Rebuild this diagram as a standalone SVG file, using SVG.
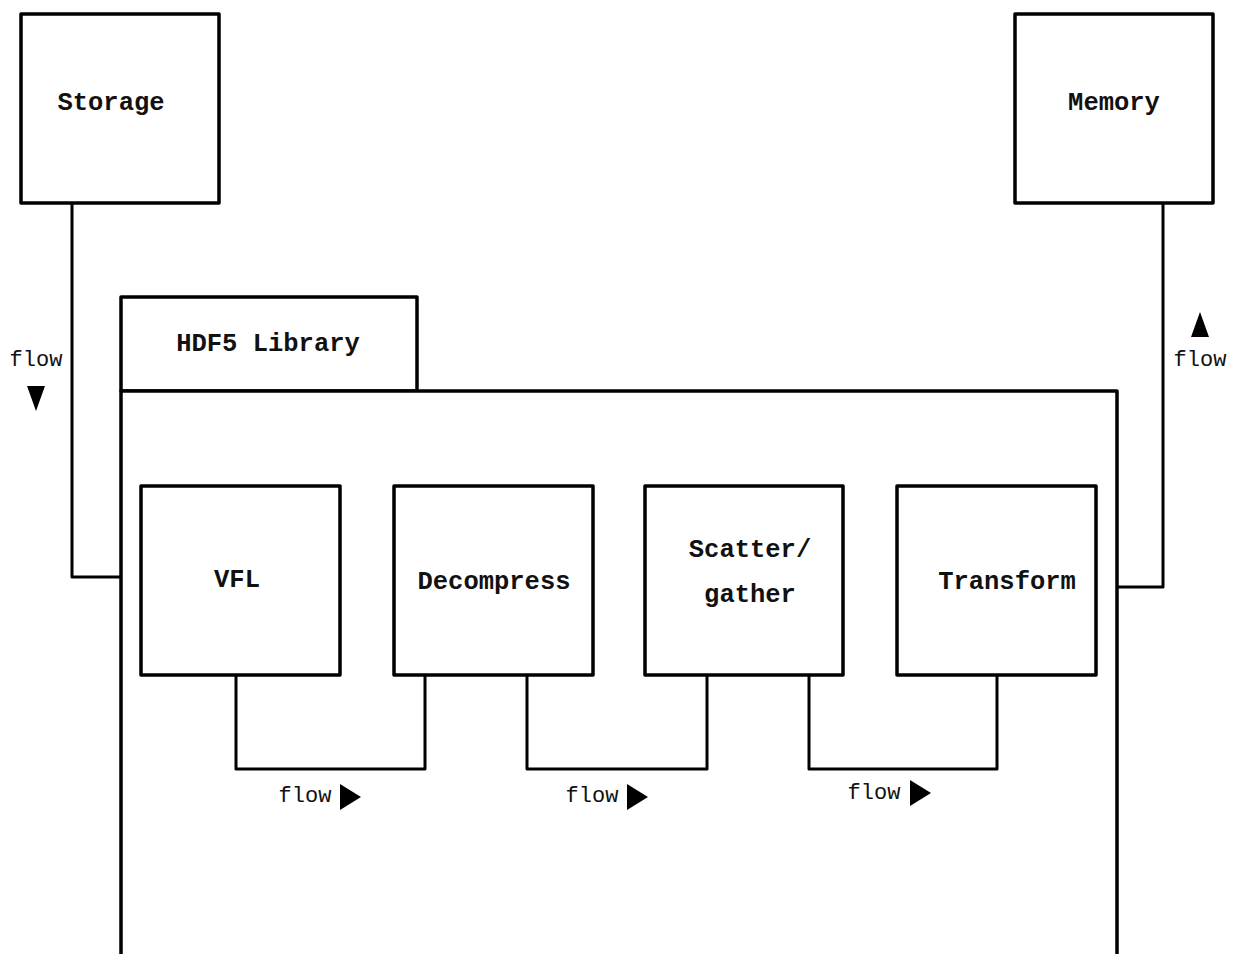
<svg xmlns="http://www.w3.org/2000/svg" width="1236" height="954" viewBox="0 0 1236 954">
<style>
.box{fill:#fff;stroke:#000;stroke-width:3.5;stroke-linejoin:round}
.ln{fill:none;stroke:#000;stroke-width:3;stroke-linejoin:round}
.lbl{font-family:"Liberation Mono","Courier New",monospace;font-weight:bold;font-size:25.5px;fill:#111;text-anchor:middle;dominant-baseline:central}
.fl{font-family:"Liberation Mono","Courier New",monospace;font-size:22px;fill:#111;text-anchor:middle;dominant-baseline:central}
.tri{fill:#000}
</style>
<rect width="1236" height="954" fill="#fff"/>
<g id="hdf5">
<rect class="box" x="121" y="297" width="296" height="94"/>
<path class="box" d="M121,960 V391 H1117 V960"/>
<text class="lbl" x="268" y="344">HDF5 Library</text>
</g>
<g id="connectors">
<polyline class="ln" points="72,203 72,577 121,577"/>
<polyline class="ln" points="1163,203 1163,587 1117,587"/>
<polyline class="ln" points="236,675 236,769 425,769 425,675"/>
<polyline class="ln" points="527,675 527,769 707,769 707,675"/>
<polyline class="ln" points="809,675 809,769 997,769 997,675"/>
<text class="fl" x="305" y="796">flow</text>
<polygon class="tri" points="340,784 340,810 361,797"/>
<text class="fl" x="592" y="796">flow</text>
<polygon class="tri" points="627,784 627,810 648,797"/>
<text class="fl" x="874" y="793">flow</text>
<polygon class="tri" points="910,780 910,806 931,793"/>
<text class="fl" x="36" y="360">flow</text>
<polygon class="tri" points="27,386 45,386 36,411"/>
<text class="fl" x="1200" y="360">flow</text>
<polygon class="tri" points="1191,337 1209,337 1200,312"/>
</g>
<g id="storage">
<rect class="box" x="21" y="14" width="198" height="189"/>
<text class="lbl" x="111" y="103">Storage</text>
</g>
<g id="memory">
<rect class="box" x="1015" y="14" width="198" height="189"/>
<text class="lbl" x="1114" y="103">Memory</text>
</g>
<g id="vfl">
<rect class="box" x="141" y="486" width="199" height="189"/>
<text class="lbl" x="237" y="580">VFL</text>
</g>
<g id="decompress">
<rect class="box" x="394" y="486" width="199" height="189"/>
<text class="lbl" x="494" y="582">Decompress</text>
</g>
<g id="scatter">
<rect class="box" x="645" y="486" width="198" height="189"/>
<text class="lbl" x="750" y="550">Scatter/</text>
<text class="lbl" x="750" y="595">gather</text>
</g>
<g id="transform">
<rect class="box" x="897" y="486" width="199" height="189"/>
<text class="lbl" x="1007" y="582">Transform</text>
</g>
</svg>
